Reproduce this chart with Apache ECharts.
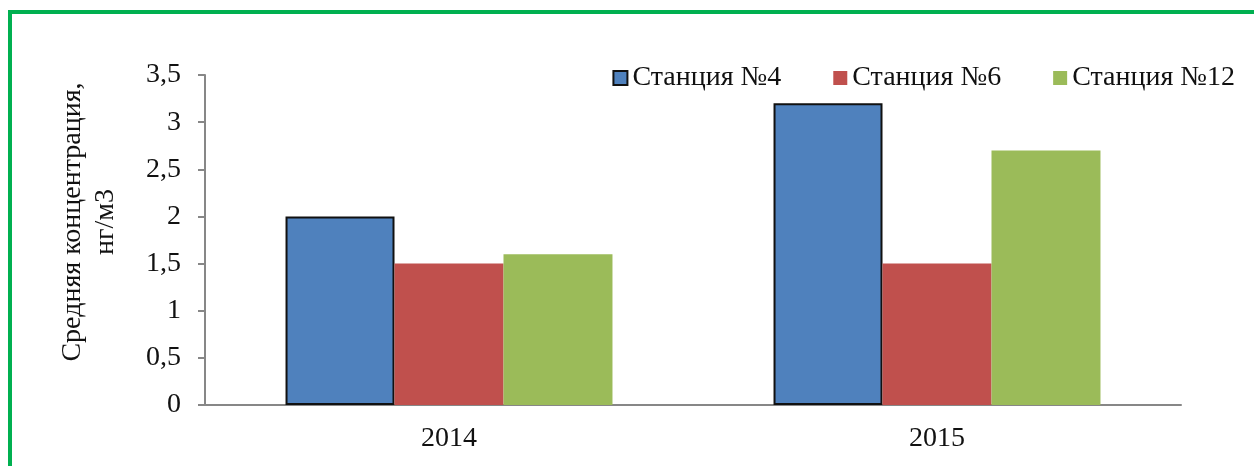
<!DOCTYPE html>
<html>
<head>
<meta charset="utf-8">
<script src="https://cdn.jsdelivr.net/npm/echarts@6/dist/echarts.min.js"></script>
<style>
html, body { margin: 0; padding: 0; background: #fff; overflow: hidden; }
#chart { width: 1254px; height: 466px; }
#frame { position: absolute; left: 8px; top: 10px; width: 1300px; height: 520px;
  border: 4px solid #00b050; box-sizing: border-box; pointer-events: none; }
</style>
</head>
<body>
<div id="chart"></div>
<div id="frame"></div>
<script>
var years = ['2014', '2015'];
var stations = ['Станция №4', 'Станция №6', 'Станция №12'];
var st4 = [2, 3.2];
var st6 = [1.5, 1.5];
var st12 = [1.6, 2.7];

var myChart = echarts.init(document.getElementById('chart'));
var font = '"Liberation Serif", "Times New Roman", serif';

option = {
    textStyle: { fontFamily: font },
    legend: {
        data: stations,
        icon: 'rect',
        right: 14,
        top: 59,
        itemWidth: 14,
        itemHeight: 14,
        itemGap: 52,
        textStyle: { fontFamily: font, fontSize: 28, color: '#111' }
    },
    grid: { left: 205, right: 73, top: 75, bottom: 61 },
    xAxis: {
        type: 'category',
        data: years,
        axisLine: { lineStyle: { color: '#878787', width: 2 } },
        axisTick: { length: 8, lineStyle: { color: '#878787', width: 2 } },
        axisLabel: { fontFamily: font, fontSize: 28, color: '#111', margin: 20 }
    },
    yAxis: {
        type: 'value',
        min: 0,
        max: 3.5,
        interval: 0.5,
        name: 'Средняя концентрация,\nнг/м3',
        nameLocation: 'middle',
        nameRotate: 90,
        nameGap: 83,
        nameTextStyle: {
            fontFamily: font, fontSize: 28, color: '#111', lineHeight: 33,
            padding: [0, 0, 0, 36]
        },
        axisLine: { show: true, lineStyle: { color: '#878787', width: 2 } },
        axisTick: { show: true, length: 7, lineStyle: { color: '#878787', width: 2 } },
        splitLine: { show: false },
        axisLabel: {
            fontFamily: font, fontSize: 28, color: '#111', margin: 24,
            formatter: function (v) { return String(v).replace('.', ','); }
        }
    },
    series: [
        {
            name: stations[0], type: 'bar', data: st4,
            barGap: '0%', barCategoryGap: '33%',
            itemStyle: { color: '#4f81bd', borderColor: '#111', borderWidth: 2 }
        },
        {
            name: stations[1], type: 'bar', data: st6,
            itemStyle: { color: '#c0504d' }
        },
        {
            name: stations[2], type: 'bar', data: st12,
            itemStyle: { color: '#9bbb59' }
        }
    ]
};

myChart.setOption(option);
window.addEventListener('resize', function () {
    myChart.resize();
});
</script>
</body>
</html>
